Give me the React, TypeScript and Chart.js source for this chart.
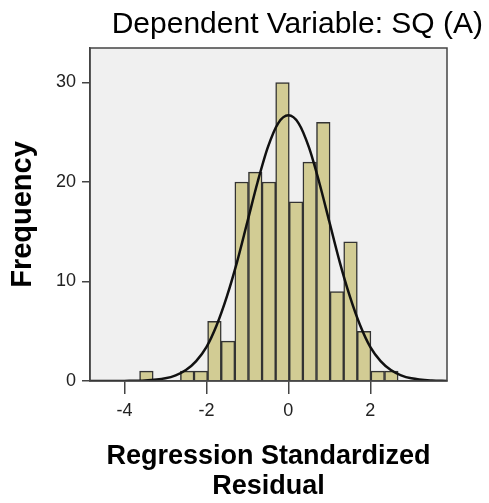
import React, { useEffect, useRef } from "react";
import { Chart, registerables } from "chart.js";

Chart.register(...registerables);

// Histogram bins (centers) and frequencies
const binCenters = [-3.464, -3.132, -2.8, -2.468, -2.136, -1.804, -1.472, -1.14, -0.808, -0.476, -0.144, 0.188, 0.52, 0.852, 1.184, 1.516, 1.848, 2.18, 2.512];
const frequencies = [1, 0, 0, 1, 1, 6, 4, 20, 21, 20, 30, 18, 22, 26, 9, 14, 5, 1, 1];

// Normal curve
const curveX = [-4.84, -4.5, -4.0, -3.5, -3.0, -2.75, -2.5, -2.25, -2.0, -1.75, -1.5, -1.25, -1.0, -0.75, -0.5, -0.25, 0, 0.25, 0.5, 0.75, 1.0, 1.25, 1.5, 1.75, 2.0, 2.25, 2.5, 2.75, 3.0, 3.5, 3.87];
const curveY = [0, 0, 0.01, 0.05, 0.27, 0.57, 1.1, 2.0, 3.4, 5.6, 8.5, 12.0, 16.0, 20.0, 23.5, 25.9, 26.7, 25.9, 23.5, 20.0, 16.0, 12.0, 8.5, 5.6, 3.4, 2.0, 1.1, 0.57, 0.27, 0.05, 0.01];

const xTicks = [-4, -2, 0, 2];
const yTicks = [0, 10, 20, 30];

const titleText = "Dependent Variable: SQ (A)";
const xTitle = ["Regression Standardized", "Residual"];
const yTitle = "Frequency";

const FONT = "'Liberation Sans', Arial, sans-serif";

const framePlugin = {
  id: "frame",
  beforeDraw(chart: any) {
    const { ctx, chartArea: a, width, height } = chart;
    ctx.save();
    ctx.fillStyle = "#ffffff";
    ctx.fillRect(0, 0, width, height);
    ctx.fillStyle = "#f0f0f0";
    ctx.fillRect(a.left, a.top, a.right - a.left, a.bottom - a.top);
    ctx.restore();
  },
  afterDatasetsDraw(chart: any) {
    const { ctx, chartArea: a } = chart;
    ctx.save();
    ctx.strokeStyle = "#444444";
    ctx.lineWidth = 1.5;
    ctx.strokeRect(a.left, a.top, a.right - a.left, a.bottom - a.top);
    ctx.restore();
  },
};

export default function App() {
  const ref = useRef<HTMLCanvasElement | null>(null);
  useEffect(() => {
    document.body.style.margin = "0";
    const canvas = ref.current;
    if (!canvas) return;
    const chart = new Chart(canvas, {
      type: "bar",
      data: {
        datasets: [
          {
            type: "line",
            label: "Normal",
            data: curveX.map((x, i) => ({ x, y: curveY[i] })),
            borderColor: "#111111",
            borderWidth: 2.5,
            pointRadius: 0,
            cubicInterpolationMode: "monotone",
            fill: false,
            order: 0,
          } as any,
          {
            type: "bar",
            label: "Frequency",
            data: binCenters.map((x, i) => ({ x, y: frequencies[i] })),
            backgroundColor: "#d2cc94",
            borderColor: "#333333",
            borderWidth: 1.5,
            barPercentage: 1,
            categoryPercentage: 1,
            order: 1,
          } as any,
        ],
      },
      options: {
        responsive: false,
        animation: false,
        layout: { padding: { left: 0, right: 6, top: 0, bottom: 0 } },
        plugins: {
          legend: { display: false },
          tooltip: { enabled: false },
          title: {
            display: true,
            text: titleText,
            align: "end",
            color: "#000000",
            font: { family: FONT, size: 30, weight: "normal", lineHeight: 1.2 },
            padding: { top: 7, bottom: 5 },
          },
        },
        scales: {
          x: {
            type: "linear",
            min: -4.84,
            max: 3.87,
            bounds: "data",
            offset: false,
            afterBuildTicks: (s: any) => {
              s.ticks = xTicks.map((v) => ({ value: v }));
            },
            afterFit: (s: any) => {
              s.height = 122;
            },
            ticks: {
              stepSize: 2,
              includeBounds: false,
              color: "#222222",
              padding: 6,
              maxRotation: 0,
              font: { family: FONT, size: 18 },
            },
            grid: {
              display: true,
              offset: false,
              drawOnChartArea: false,
              drawTicks: true,
              tickLength: 13,
              color: "#444444",
              lineWidth: 1.5,
            },
            border: { display: true, color: "#444444", width: 1.5 },
            title: {
              display: true,
              text: xTitle,
              color: "#000000",
              font: { family: FONT, size: 27, weight: "bold", lineHeight: 30 / 27 },
              padding: { top: 0, bottom: 1 },
            },
          },
          y: {
            type: "linear",
            min: 0,
            max: 33.47,
            bounds: "data",
            afterBuildTicks: (s: any) => {
              s.ticks = yTicks.map((v) => ({ value: v }));
            },
            afterFit: (s: any) => {
              s.width = 90;
            },
            ticks: {
              stepSize: 10,
              includeBounds: false,
              color: "#222222",
              padding: 6,
              font: { family: FONT, size: 18 },
            },
            grid: {
              display: true,
              drawOnChartArea: false,
              drawTicks: true,
              tickLength: 8,
              color: "#444444",
              lineWidth: 1.5,
            },
            border: { display: true, color: "#444444", width: 1.5 },
            title: {
              display: true,
              text: yTitle,
              color: "#000000",
              font: { family: FONT, size: 29, weight: "bold", lineHeight: 1.2 },
              padding: { top: 6, bottom: 0 },
            },
          },
          y2: {
            type: "linear",
            position: "right",
            display: true,
            afterFit: (s: any) => {
              s.width = 36;
            },
            ticks: { display: false },
            grid: { display: false, drawTicks: false },
            border: { display: false },
          },
        },
      } as any,
      plugins: [framePlugin],
    });
    return () => chart.destroy();
  }, []);
  return <canvas ref={ref} width={489} height={503} style={{ display: "block" }} />;
}
